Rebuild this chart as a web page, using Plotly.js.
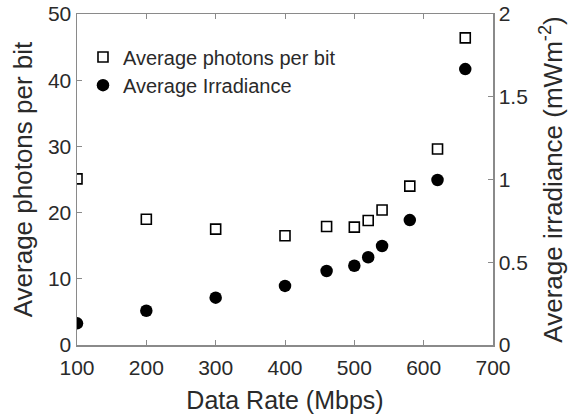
<!DOCTYPE html>
<html>
<head>
<meta charset="utf-8">
<script src="https://cdn.plot.ly/plotly-3.0.1.min.js"></script>
<style>html,body{margin:0;padding:0;background:#fff;}#chart{width:586px;height:418px;}</style>
</head>
<body>
<div id="chart"></div>
<script>
const dataRate = [100, 200, 300, 400, 460, 500, 520, 540, 580, 620, 660];
const photonsPerBit = [25.1, 19.0, 17.5, 16.5, 17.9, 17.8, 18.8, 20.4, 24.0, 29.6, 46.4];
const irradianceRate = [100, 200, 300, 400, 460, 500, 520, 540, 580, 620, 660];
const irradiance = [0.131, 0.207, 0.286, 0.357, 0.447, 0.479, 0.530, 0.598, 0.755, 0.997, 1.667];
const xTicks = [100, 200, 300, 400, 500, 600, 700];
const yTicks = [0, 10, 20, 30, 40, 50];
const y2Ticks = [0, 0.5, 1, 1.5, 2];
const y2TickText = ['0', '0.5', '1', '1.5', '2'];

const FONT = 'Liberation Sans, Arial, Helvetica, sans-serif';
const TXT = '#2a2a2a';
const AX = '#8a8a8a';

const traces = [
  {
    x: dataRate, y: photonsPerBit, type: 'scatter', mode: 'markers',
    name: 'Average photons per bit', legend: 'legend',
    marker: {symbol: 'square-open', size: 10, color: '#000', line: {width: 1.6, color: '#000'}},
    xaxis: 'x', yaxis: 'y'
  },
  {
    x: irradianceRate, y: irradiance, type: 'scatter', mode: 'markers',
    name: 'Average Irradiance', legend: 'legend2',
    marker: {symbol: 'circle', size: 12.5, color: '#000'},
    xaxis: 'x', yaxis: 'y2'
  }
];

const layout = {
  width: 586, height: 418,
  margin: {l: 77, r: 93, t: 14, b: 73, pad: 0},
  paper_bgcolor: '#fff', plot_bgcolor: '#fff',
  font: {family: FONT, color: TXT},
  showlegend: true,
  xaxis: {
    range: [100, 700], tickvals: xTicks, ticktext: xTicks.map(String),
    ticks: 'inside', ticklen: 5, tickwidth: 1, tickcolor: AX,
    showline: true, linecolor: AX, linewidth: 1.5, mirror: 'ticks',
    showgrid: false, zeroline: false, ticklabelstandoff: 3,
    tickfont: {size: 21, color: TXT},
    title: {text: 'Data Rate (Mbps)', font: {size: 25, color: TXT}, standoff: 14},
    automargin: false
  },
  yaxis: {
    range: [0, 50], tickvals: yTicks, ticktext: yTicks.map(String),
    ticks: 'inside', ticklen: 5, tickwidth: 1, tickcolor: AX,
    showline: true, linecolor: AX, linewidth: 1.5, mirror: false,
    showgrid: false, zeroline: false,
    tickfont: {size: 21, color: TXT},
    title: {text: 'Average photons per bit', font: {size: 26, color: TXT}, standoff: 8},
    automargin: false
  },
  yaxis2: {
    overlaying: 'y', side: 'right',
    range: [0, 2], tickvals: y2Ticks, ticktext: y2TickText,
    ticks: 'inside', ticklen: 5, tickwidth: 1, tickcolor: AX,
    showline: true, linecolor: AX, linewidth: 1.5,
    showgrid: false, zeroline: false,
    tickfont: {size: 21, color: TXT},
    title: {text: 'Average irradiance (mWm<sup>-2</sup>)', font: {size: 26, color: TXT}, standoff: 17},
    automargin: false
  },
  legend: {
    x: 0.0144, y: 0.87, xanchor: 'left', yanchor: 'middle',
    bgcolor: 'rgba(0,0,0,0)', borderwidth: 0,
    font: {size: 20, color: TXT}
  },
  legend2: {
    x: 0.0144, y: 0.785, xanchor: 'left', yanchor: 'middle',
    bgcolor: 'rgba(0,0,0,0)', borderwidth: 0,
    font: {size: 20, color: TXT}
  }
};

Plotly.newPlot('chart', traces, layout, {displayModeBar: false, staticPlot: true});
</script>
</body>
</html>
